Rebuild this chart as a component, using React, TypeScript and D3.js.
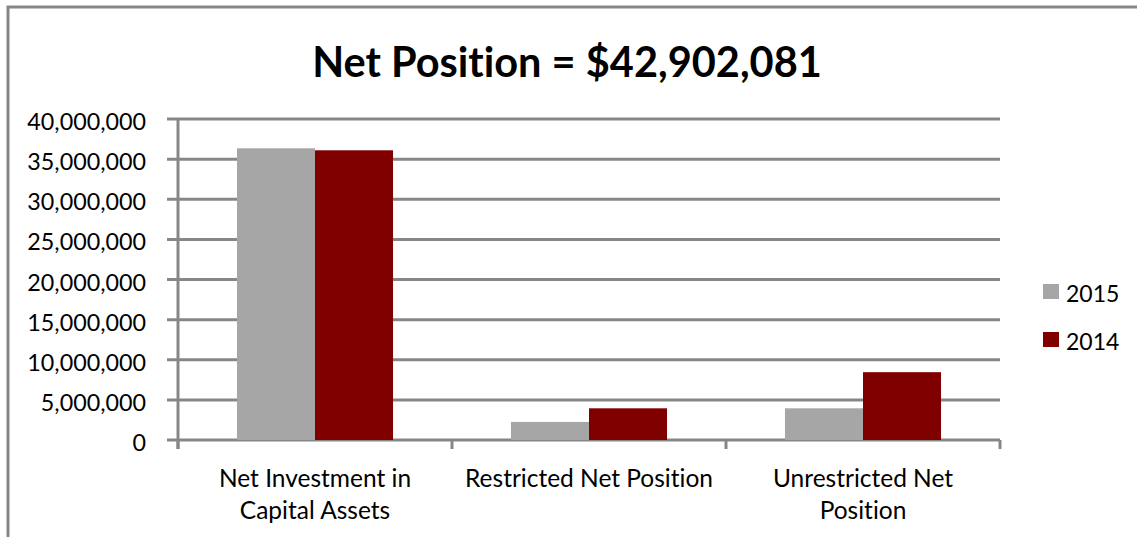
import React from "react";
import * as d3 from "d3";

const title = "Net Position = $42,902,081";
const categories = ["Net Investment in Capital Assets", "Restricted Net Position", "Unrestricted Net Position"];
const categoryLines = [["Net Investment in", "Capital Assets"], ["Restricted Net Position"], ["Unrestricted Net", "Position"]];
const seriesNames = ["2015", "2014"];
const values2015 = [36350000, 2250000, 3950000];
const values2014 = [36100000, 3950000, 8450000];
const yTicks = [0, 5000000, 10000000, 15000000, 20000000, 25000000, 30000000, 35000000, 40000000];
const colors = ["#A6A6A6", "#800000"];

const W = 1137;
const H = 537;
const FONT = "Lato, 'Open Sans', sans-serif";
const GRID = "#878787";
const noLig = { fontVariantLigatures: "none" as const, fontKerning: "normal" as const };

export default function App() {
  const left = 178, right = 1000, top = 119, bottom = 440;
  const x0 = d3.scaleBand<string>().domain(categories).range([left, right]).paddingInner(0).paddingOuter(0);
  const x1 = d3.scaleBand<string>().domain(seriesNames).range([0, x0.bandwidth()]).paddingInner(0).paddingOuter(0.756);
  const y = d3.scaleLinear().domain([0, 40000000]).range([bottom, top]);
  const fmt = d3.format(",");
  const series = [values2015, values2014];
  const boundaries = [...categories.map((c) => x0(c) as number), right];

  return (
    <svg width={W} height={H} style={{ position: "absolute", left: 0, top: 0, background: "#fff" }}>
      <rect x={8} y={7} width={W + 20} height={H + 20} fill="#fff" stroke={GRID} strokeWidth={3} />
      <text x={567} y={77} textAnchor="middle" fontFamily={FONT} fontWeight={700} fontSize={41.5} fill="#000" style={noLig}>
        {title}
      </text>
      {yTicks.map((t) => (
        <g key={t}>
          <line x1={left - 11} x2={right} y1={y(t)} y2={y(t)} stroke={GRID} strokeWidth={3} />
          <text x={146} y={y(t) + 11} textAnchor="end" fontFamily={FONT} fontSize={23.3} fill="#000" style={noLig}>
            {fmt(t)}
          </text>
        </g>
      ))}
      <line x1={left} x2={left} y1={top} y2={bottom + 9} stroke={GRID} strokeWidth={3} />
      {boundaries.map((b, i) => (
        <line key={i} x1={b} x2={b} y1={bottom} y2={bottom + 9} stroke={GRID} strokeWidth={3} />
      ))}
      {categories.map((c, ci) => (
        <g key={c}>
          {seriesNames.map((s, si) => {
            const v = series[si][ci];
            return (
              <rect
                key={s}
                x={(x0(c) as number) + (x1(s) as number)}
                y={y(v)}
                width={x1.bandwidth()}
                height={bottom - y(v)}
                fill={colors[si]}
              />
            );
          })}
          {categoryLines[ci].map((ln, li) => (
            <text
              key={li}
              x={(x0(c) as number) + x0.bandwidth() / 2}
              y={487 + li * 32}
              textAnchor="middle"
              fontFamily={FONT}
              fontSize={24.5}
              fill="#000"
              style={noLig}
            >
              {ln}
            </text>
          ))}
        </g>
      ))}
      {seriesNames.map((s, i) => (
        <g key={s}>
          <rect x={1043} y={284 + i * 48} width={16} height={15} fill={colors[i]} />
          <text x={1066} y={302 + i * 48} fontFamily={FONT} fontSize={23} fill="#000" style={noLig}>
            {s}
          </text>
        </g>
      ))}
    </svg>
  );
}
